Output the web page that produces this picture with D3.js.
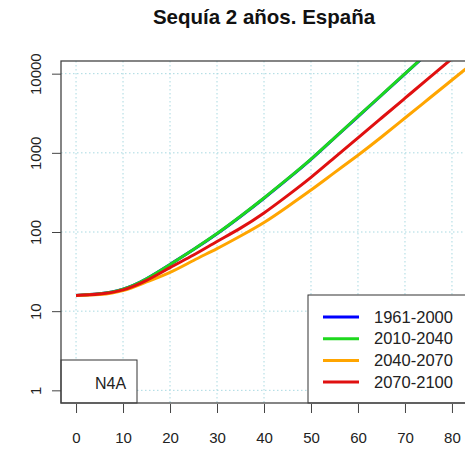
<!DOCTYPE html>
<html><head><meta charset="utf-8">
<script src="https://cdn.jsdelivr.net/npm/d3@7"></script>
<style>body{margin:0;background:#fff}svg{display:block;font-family:"Liberation Sans",Arial,sans-serif}</style>
</head><body><div id="chart"></div>
<script>
const title = "Sequía 2 años. España";
const xValues = [0,5,10,15,20,25,30,35,40,45,50,55,60,65,70,75,80,85];
const series = ["1961-2000","2010-2040","2040-2070","2070-2100"];
const colors = ["#0000ff","#1ed81e","#ffa500","#e01010"];
const blue   = [15.8,16.6,19.0,25.7,38.9,60.0,95.0,157,267,465,827,1540,2870,5340,9950,18500,33800,62600];
const green  = [15.8,16.6,19.0,25.7,38.9,60.3,95.5,158,269,468,832,1549,2884,5370,10000,18621,34000,63000];
const orange = [15.8,16.2,18.2,23.4,30.9,43.7,61.7,89.1,132,209,339,562,933,1585,2754,4786,8318,14454];
const red    = [15.8,16.5,18.6,24.5,35.5,51.3,75.9,112,174,288,490,871,1549,2754,4898,8710,15488,27500];
const seriesValues = [blue, green, orange, red];
const xTicks = [0,10,20,30,40,50,60,70,80];
const yTicks = [1,10,100,1000,10000];
const yTickLabels = ["1","10","100","1000","10000"];
const boxLabel = "N4A";

const W = 465, H = 449;
const L = 61, R = 467, T = 61, B = 403;
const svg = d3.select("#chart").append("svg").attr("width", W).attr("height", H);

const x = d3.scaleLinear().domain([-3.2, 83.2]).range([L, R]);
const y = d3.scaleLog().domain([Math.pow(10,-0.16), Math.pow(10,4.16)]).range([B, T]);

// title
svg.append("text").attr("x", (L+R)/2).attr("y", 24).attr("text-anchor","middle")
  .attr("font-weight","bold").attr("font-size", 20.5).attr("fill","#111").text(title);

// grid
const grid = svg.append("g").attr("stroke","#a9d9e1").attr("stroke-dasharray","1.5,2.5").attr("stroke-width",1);
xTicks.forEach(t => grid.append("line").attr("x1", x(t)).attr("x2", x(t)).attr("y1", T).attr("y2", B));
yTicks.forEach(t => grid.append("line").attr("x1", L).attr("x2", R).attr("y1", y(t)).attr("y2", y(t)));

// clip
svg.append("clipPath").attr("id","clip").append("rect").attr("x",L).attr("y",T).attr("width",R-L).attr("height",B-T);

const line = d3.line().x(d => x(d[0])).y(d => y(d[1])).curve(d3.curveNatural);
const lines = svg.append("g").attr("clip-path","url(#clip)");
seriesValues.forEach((vals, i) => {
  lines.append("path").datum(xValues.map((xv, j) => [xv, vals[j]]))
    .attr("d", line).attr("fill","none").attr("stroke", colors[i]).attr("stroke-width", 3);
});

// axes
const xAxis = svg.append("g").attr("transform", `translate(0,${B+1})`)
  .call(d3.axisBottom(x).tickValues(xTicks).tickSize(9).tickPadding(19));
xAxis.select(".domain").remove();
xAxis.selectAll("text").attr("font-size",15).attr("fill","#222").attr("font-family","Liberation Sans, Arial, sans-serif");
xAxis.selectAll("line").attr("stroke","#444");

const yAxis = svg.append("g").attr("transform", `translate(${L},0)`)
  .call(d3.axisLeft(y).tickValues(yTicks).tickFormat((d,i) => yTickLabels[i]).tickSize(9));
yAxis.select(".domain").remove();
yAxis.selectAll("line").attr("stroke","#444");
yAxis.selectAll("text").remove();
yAxis.selectAll(".tick").append("text")
  .attr("transform","translate(-25,0) rotate(-90)")
  .attr("text-anchor","middle").attr("dy","0.35em")
  .attr("font-size",15).attr("fill","#222")
  .attr("font-family","Liberation Sans, Arial, sans-serif")
  .text((d,i) => yTickLabels[i]);

// N4A box
svg.append("rect").attr("x", L).attr("y", 360).attr("width", 137-L).attr("height", B-360)
  .attr("fill","#fff").attr("stroke","#333").attr("stroke-width",1);
svg.append("text").attr("x", 95).attr("y", 389).attr("font-size",16).attr("fill","#222").text(boxLabel);

// legend
svg.append("rect").attr("x", 308).attr("y", 295).attr("width", R-308).attr("height", B-295)
  .attr("fill","#fff").attr("stroke","#333").attr("stroke-width",1);
series.forEach((s, i) => {
  const cy = 317 + i*21.7;
  svg.append("line").attr("x1",323).attr("x2",359).attr("y1",cy).attr("y2",cy)
    .attr("stroke",colors[i]).attr("stroke-width",3);
  svg.append("text").attr("x",374).attr("y",cy).attr("dy","0.35em").attr("font-size",16.5)
    .attr("fill","#222").text(s);
});

// plot box
svg.append("rect").attr("x",L).attr("y",T).attr("width",R-L).attr("height",B-T)
  .attr("fill","none").attr("stroke","#444").attr("stroke-width",1.3);
</script></body></html>
